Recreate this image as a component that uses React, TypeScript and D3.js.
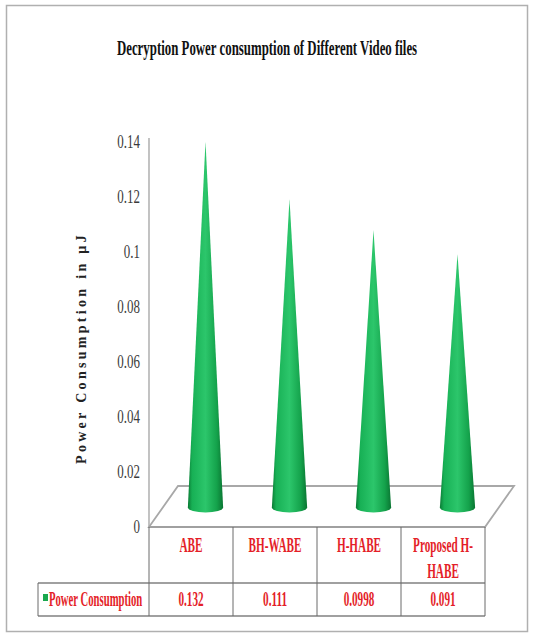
import React, { useLayoutEffect, useRef, useState } from "react";
import * as d3 from "d3";

const categories = ["ABE", "BH-WABE", "H-HABE", "Proposed H-HABE"];
const categoryLines = [["ABE"], ["BH-WABE"], ["H-HABE"], ["Proposed H-", "HABE"]];
const values = [0.132, 0.111, 0.0998, 0.091];
const valueLabels = ["0.132", "0.111", "0.0998", "0.091"];
const yTicks = [0, 0.02, 0.04, 0.06, 0.08, 0.1, 0.12, 0.14];
const seriesName = "Power Consumption";
const title = "Decryption Power consumption of Different Video files";
const yTitle = "Power Consumption in µJ";

const W = 534;
const H = 635;
const RED = "#e41e28";
const SERIF = "'Liberation Serif', 'Times New Roman', serif";

export default function App() {
  const titleRef = useRef<SVGTextElement>(null);
  const [titleScale, setTitleScale] = useState(0.6);
  useLayoutEffect(() => {
    if (titleRef.current) {
      const w = titleRef.current.getComputedTextLength();
      if (w > 0) setTitleScale(300 / w);
    }
  }, []);

  const x = d3.scaleBand<string>().domain(categories).range([149, 485]).padding(0);
  const y = d3.scaleLinear().domain([0, 0.14]).range([527, 142]);
  const depthX = 29;
  const depthY = -41;
  const midX = depthX / 2;
  const midY = depthY / 2 + 1;
  const floorY = y(0);
  const r = x.bandwidth() * 0.21;
  const ry = 5;
  const rowCat = 583;
  const rowVal = 616;
  const SX = 0.56;

  const condensed = (
    t: string,
    px: number,
    py: number,
    size: number,
    opts: { fill?: string; weight?: string; anchor?: string; sx?: number } = {}
  ) => (
    <text
      transform={`translate(${px},${py}) scale(${opts.sx ?? SX},1)`}
      fontFamily={SERIF}
      fontSize={size}
      fontWeight={opts.weight ?? "bold"}
      fill={opts.fill ?? RED}
      textAnchor={opts.anchor ?? "middle"}
    >
      {t}
    </text>
  );

  return (
    <svg width={W} height={H} style={{ position: "absolute", left: 0, top: 0 }}>
      <defs>
        <linearGradient id="coneGrad" x1="0" x2="1" y1="0" y2="0">
          <stop offset="0%" stopColor="#0a7a34" />
          <stop offset="12%" stopColor="#17b055" />
          <stop offset="50%" stopColor="#2cc66b" />
          <stop offset="82%" stopColor="#14a24b" />
          <stop offset="100%" stopColor="#0a7532" />
        </linearGradient>
      </defs>
      <rect x={0} y={0} width={W} height={H} fill="#fff" />
      <rect x={6.5} y={5.5} width={521} height={626} fill="#fff" stroke="#b0b0b0" strokeWidth={1.5} />

      {/* Title */}
      <text
        ref={titleRef}
        transform={`translate(267,55) scale(${titleScale},1)`}
        fontFamily={SERIF}
        fontSize={21}
        fontWeight="bold"
        fill="#111"
        textAnchor="middle"
      >
        {title}
      </text>

      {/* Y axis title */}
      <text
        transform={`translate(86,348) rotate(-90)`}
        fontFamily={SERIF}
        fontSize={14}
        fontWeight="bold"
        fill="#222"
        textAnchor="middle"
        letterSpacing={3.3}
      >
        {yTitle}
      </text>

      {/* Y tick labels */}
      {yTicks.map((t) => (
        <g key={t}>
          {condensed(String(t), 140, y(t) + 6, 18, { fill: "#3a3a3a", weight: "normal", anchor: "end", sx: 0.72 })}
        </g>
      ))}

      {/* Y axis line */}
      <line x1={149} x2={149} y1={138} y2={floorY} stroke="#9a9a9a" strokeWidth={1.2} />

      {/* Floor */}
      <path
        d={`M${x.range()[0]},${floorY} L${x.range()[0] + depthX},${floorY + depthY} L${x.range()[1] + depthX},${floorY + depthY} L${x.range()[1]},${floorY} Z`}
        fill="#fff"
        stroke="#a8a8a8"
        strokeWidth={1.8}
      />

      {/* Cones */}
      {values.map((v, i) => {
        const cx = (x(categories[i]) as number) + x.bandwidth() / 2 + midX;
        const by = y(0) + midY;
        const ty = y(v) + midY - 3;
        const d = `M${cx - r},${by} L${cx},${ty} L${cx + r},${by} A${r},${ry} 0 0 1 ${cx - r},${by} Z`;
        return <path key={categories[i]} d={d} fill="url(#coneGrad)" />;
      })}

      {/* Data table */}
      <g stroke="#a0a0a0" strokeWidth={2}>
        <line x1={149} x2={485} y1={floorY} y2={floorY} />
        <line x1={38} x2={485} y1={rowCat} y2={rowCat} />
        <line x1={38} x2={485} y1={rowVal} y2={rowVal} />
      </g>
      <g stroke="#6a6a6a" strokeWidth={1}>
        <line x1={38} x2={38} y1={rowCat} y2={rowVal} />
        {categories.map((c) => (
          <line key={c} x1={x(c)} x2={x(c)} y1={floorY} y2={rowVal} />
        ))}
        <line x1={485} x2={485} y1={floorY} y2={rowVal} />
      </g>

      {categoryLines.map((lines, i) => {
        const cx = (x(categories[i]) as number) + x.bandwidth() / 2;
        return (
          <g key={categories[i]}>
            {lines.map((ln, j) => (
              <g key={j}>{condensed(ln, cx, 552 + j * 26, 20)}</g>
            ))}
          </g>
        );
      })}

      {valueLabels.map((vl, i) => {
        const cx = (x(categories[i]) as number) + x.bandwidth() / 2;
        return <g key={vl}>{condensed(vl, cx, 606, 20)}</g>;
      })}

      {/* Legend */}
      <rect x={43} y={594} width={5} height={7} fill="#19a84e" />
      {condensed(seriesName, 49, 606, 20, { anchor: "start", sx: 0.535 })}
    </svg>
  );
}
